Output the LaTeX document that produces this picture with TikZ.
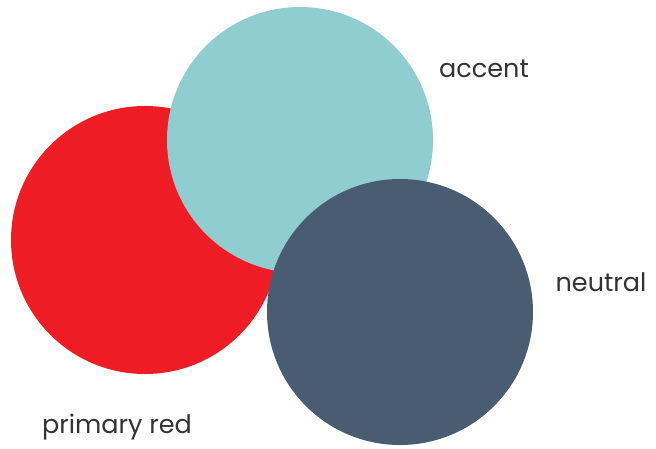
\documentclass[tikz,border=0pt]{standalone}
\usepackage{fontspec}
\setmainfont{Poppins}
\definecolor{cred}{HTML}{EE1D25}
\definecolor{cteal}{HTML}{8FCDD1}
\definecolor{cnavy}{HTML}{4A5C72}
\definecolor{ctext}{HTML}{333333}
\begin{document}
\begin{tikzpicture}[x=1pt,y=-1pt,
  lbl/.style={text=ctext,font=\fontsize{25.5}{28}\selectfont,inner sep=0pt,anchor=base}]
\useasboundingbox (0,0) rectangle (656,448);
\fill[cred] (145,240) circle (134);
\fill[cteal] (300,140) circle (133);
\fill[cnavy] (400,312) circle (133);
\node[lbl] (accent) at (484,77) {accent};
\node[lbl] (neutral) at (601,291) {neutral};
\node[lbl] (red) at (117,433) {primary red};
\end{tikzpicture}
\end{document}
